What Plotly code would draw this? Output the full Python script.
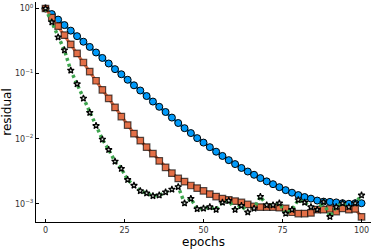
import plotly.graph_objects as go

epochs = list(range(0, 101, 2))

residual_blue = [1.0, 0.822, 0.676, 0.556, 0.457, 0.376, 0.309, 0.257, 0.211, 0.174,
                 0.143, 0.117, 0.0977, 0.0804, 0.0661, 0.0550, 0.0452, 0.0372, 0.0309, 0.0257,
                 0.0211, 0.0174, 0.0145, 0.0122, 0.0102, 0.00871, 0.00741, 0.00631, 0.00543, 0.00468,
                 0.00407, 0.00355, 0.00313, 0.00279, 0.00248, 0.00221, 0.00200, 0.00180, 0.00162, 0.00148,
                 0.00136, 0.00127, 0.00120, 0.00112, 0.00108, 0.00107, 0.00105, 0.00102, 0.00100, 0.00102,
                 0.00102]

residual_orange = [1.0, 0.724, 0.537, 0.389, 0.282, 0.204, 0.148, 0.107, 0.0776, 0.0562,
                   0.0417, 0.0302, 0.0219, 0.0162, 0.0120, 0.00933, 0.00741, 0.00589, 0.00457, 0.00363,
                   0.00295, 0.00245, 0.00219, 0.00191, 0.00174, 0.00158, 0.00141, 0.00129, 0.00120, 0.00115,
                   0.00110, 0.00105, 0.000977, 0.000912, 0.000891, 0.000891, 0.000891, 0.000871, 0.000851, 0.000741,
                   0.000708, 0.000708, 0.000724, 0.000813, 0.000813, 0.000832, 0.000759, 0.000851, 0.000813, 0.000832,
                   0.000631]

residual_green = [1.0, 0.617, 0.363, 0.229, 0.112, 0.0692, 0.0417, 0.0251, 0.0158, 0.00977,
                  0.00676, 0.00447, 0.00347, 0.00234, 0.00191, 0.00158, 0.00145, 0.00132, 0.00135, 0.00151,
                  0.00166, 0.00182, 0.00102, 0.00120, 0.000832, 0.000851, 0.000891, 0.000813, 0.00105, 0.00112,
                  0.000813, 0.000933, 0.000741, 0.000851, 0.00129, 0.000955, 0.000955, 0.00102, 0.000708, 0.000813,
                  0.00115, 0.00105, 0.000891, 0.000813, 0.00107, 0.000631, 0.000891, 0.00102, 0.000891, 0.00102,
                  0.00135]

x_ticks = [0, 25, 50, 75, 100]
y_ticks = [1, 0.1, 0.01, 0.001]
y_tick_text = ["10<sup>0</sup>", "10<sup>\u22121</sup>", "10<sup>\u22122</sup>", "10<sup>\u22123</sup>"]

BLUE = "#009AFA"
ORANGE = "#E36F47"
GREEN = "#3EA44E"

fig = go.Figure()
fig.add_trace(go.Scatter(
    x=epochs, y=residual_blue, mode="lines+markers",
    line=dict(color=BLUE, width=3),
    marker=dict(symbol="circle", size=7, color=BLUE, line=dict(color="black", width=1)),
    showlegend=False))
fig.add_trace(go.Scatter(
    x=epochs, y=residual_orange, mode="lines+markers",
    line=dict(color=ORANGE, width=3),
    marker=dict(symbol="square", size=6.5, color=ORANGE, line=dict(color="rgba(0,0,0,0.65)", width=1.2)),
    showlegend=False))
fig.add_trace(go.Scatter(
    x=epochs, y=residual_green, mode="lines+markers",
    line=dict(color=GREEN, width=3.5, dash="3px,3px"),
    marker=dict(symbol="star", size=5, color="#dfe8df", line=dict(color="black", width=1.2)),
    showlegend=False))

axis_font = dict(family="DejaVu Sans", size=8, color="#333333")
fig.update_layout(
    width=374, height=249,
    margin=dict(l=36, r=3, t=2, b=27),
    paper_bgcolor="white", plot_bgcolor="white",
    font=dict(family="DejaVu Sans"),
    xaxis=dict(
        range=[-3, 103], tickvals=x_ticks, ticks="inside", ticklen=3, tickcolor="black",
        showline=True, linecolor="black", linewidth=1, showgrid=False, zeroline=False,
        tickfont=axis_font, automargin=False,
        title=dict(text="epochs", font=dict(family="DejaVu Sans", size=12, color="black"), standoff=1)),
    yaxis=dict(
        type="log", range=[-3.28, 0.1], tickvals=y_ticks, ticktext=y_tick_text,
        ticks="inside", ticklen=3, tickcolor="black",
        showline=True, linecolor="black", linewidth=1, showgrid=False, zeroline=False,
        tickfont=axis_font, automargin=False,
        title=dict(text="residual", font=dict(family="DejaVu Sans", size=12, color="black"), standoff=1)),
)

fig.write_html("out.html", config={"displayModeBar": False},
               post_script="document.body.style.margin='0';document.body.style.overflow='hidden';")
